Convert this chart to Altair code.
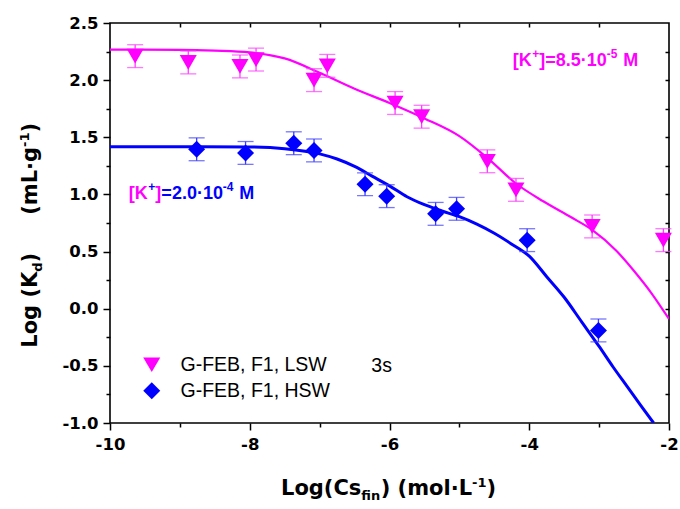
import altair as alt
import pandas as pd

# ---------------- data ----------------
SERIES = ["G-FEB, F1, LSW", "G-FEB, F1, HSW"]

lsw_x = [-9.64, -8.88, -8.14, -7.91, -7.08, -6.89, -5.92, -5.54, -4.60, -4.19, -3.10, -2.08]
lsw_y = [2.21, 2.155, 2.12, 2.18, 2.00, 2.125, 1.80, 1.68, 1.29, 1.04, 0.72, 0.60]
lsw_err = [0.10, 0.10, 0.10, 0.10, 0.10, 0.10, 0.10, 0.10, 0.10, 0.10, 0.10, 0.10]

hsw_x = [-8.76, -8.06, -7.37, -7.08, -6.35, -6.04, -5.34, -5.04, -4.03, -3.01]
hsw_y = [1.395, 1.363, 1.448, 1.385, 1.089, 0.985, 0.83, 0.874, 0.60, -0.19]
hsw_err = [0.10, 0.10, 0.10, 0.10, 0.10, 0.10, 0.10, 0.10, 0.10, 0.10]

# fitted curves
fit_lsw_x = [-10, -9, -8.5, -8, -7.5, -7, -6.5, -6, -5.5, -5, -4.6, -4.2, -3.8, -3.4,
             -3.1, -2.75, -2.5, -2.25, -2.0]
fit_lsw_y = [2.267, 2.265, 2.258, 2.243, 2.19, 2.065, 1.925, 1.80, 1.665, 1.51, 1.32,
             1.10, 0.94, 0.80, 0.69, 0.505, 0.33, 0.135, -0.09]

fit_hsw_x = [-10, -9, -8, -7.5, -7.0, -6.75, -6.5, -6.25, -6.0, -5.75, -5.5, -5.25, -5.0,
             -4.75, -4.5, -4.25, -4.0, -3.75, -3.5, -3.25, -3.0, -2.8, -2.6, -2.4, -2.22]
fit_hsw_y = [1.418, 1.418, 1.415, 1.40, 1.355, 1.31, 1.245, 1.16, 1.075, 0.98, 0.91,
             0.855, 0.805, 0.74, 0.66, 0.565, 0.46, 0.28, 0.10, -0.115, -0.33, -0.51,
             -0.68, -0.85, -1.0]

x_major = [-10, -8, -6, -4, -2]
x_minor = [-9, -7, -5, -3]
x_top = [-9, -8, -7, -6, -5, -4, -3]
y_major = [-1.0, -0.5, 0.0, 0.5, 1.0, 1.5, 2.0, 2.5]
y_minor = [-0.75, -0.25, 0.25, 0.75, 1.25, 1.75, 2.25]
y_right = [-0.75, -0.5, -0.25, 0.0, 0.25, 0.5, 0.75, 1.0, 1.25, 1.5, 1.75, 2.0, 2.25]

ann_hi_text = ["[K", "+", "]=8.5\u00b710", "-5", "M"]
ann_hi_pos = (-4.235, 2.165)
ann_lo_text = ["[K", "+", "]", "=2.0\u00b710", "-4", "M"]
ann_lo_pos = (-9.73, 1.0)
note_text = "3s"
note_pos = (-6.26, -0.497)

# ---------------- styling ----------------
MAG = "#ff00ff"
BLU = "#0000ff"
MAG_ERR = "#ff3cff"
BLU_ERR = "#3c3cff"
W, H = 559, 400
XS = alt.Scale(domain=[-10, -2], nice=False, zero=False)
YS = alt.Scale(domain=[-1.0, 2.5], nice=False, zero=False)
TICKF = "DejaVu Sans"
ANNF = "Liberation Sans"


def lab(fmt):
    return "replace(format(datum.value, '" + fmt + "'), '\u2212', '-')"


common = dict(title=None, grid=False, domain=False, tickColor="black", tickWidth=1.5,
              labelFlush=False, labelOverlap=False)

ax_x_major = alt.Axis(orient="bottom", values=x_major, tickSize=7, labelExpr=lab("d"),
                      labelFont=TICKF, labelFontWeight="bold", labelFontSize=16.5,
                      labelColor="black", labelPadding=6, **common)
ax_y_major = alt.Axis(orient="left", values=y_major, tickSize=7, labelExpr=lab(".1f"),
                      labelFont=TICKF, labelFontWeight="bold", labelFontSize=16.5,
                      labelColor="black", labelPadding=5, **common)
ax_x_minor = alt.Axis(orient="bottom", values=x_minor, tickSize=4, labels=False, **common)
ax_y_minor = alt.Axis(orient="left", values=y_minor, tickSize=4, labels=False, **common)
ax_x_top = alt.Axis(orient="top", values=x_top, tickSize=4, offset=-4, labels=False, **common)
ax_y_right = alt.Axis(orient="right", values=y_right, tickSize=4, offset=-4, labels=False, **common)

# ---------------- frames ----------------
fit_lsw = pd.DataFrame({"x": fit_lsw_x, "y": fit_lsw_y})
fit_hsw = pd.DataFrame({"x": fit_hsw_x, "y": fit_hsw_y})

lsw = pd.DataFrame({"x": lsw_x, "y": lsw_y, "err": lsw_err})
lsw["lo"] = lsw["y"] - lsw["err"]
lsw["hi"] = lsw["y"] + lsw["err"]
hsw = pd.DataFrame({"x": hsw_x, "y": hsw_y, "err": hsw_err})
hsw["lo"] = hsw["y"] - hsw["err"]
hsw["hi"] = hsw["y"] + hsw["err"]

pts = pd.concat([
    pd.DataFrame({"x": lsw_x, "y": lsw_y, "series": SERIES[0]}),
    pd.DataFrame({"x": hsw_x, "y": hsw_y, "series": SERIES[1]}),
], ignore_index=True)

# ---------------- layers ----------------
line_lsw = alt.Chart(fit_lsw).mark_line(color=MAG, strokeWidth=2.2, interpolate="monotone",
                                        clip=True).encode(
    x=alt.X("x:Q", scale=XS, axis=ax_x_major),
    y=alt.Y("y:Q", scale=YS, axis=ax_y_major))

line_hsw = alt.Chart(fit_hsw).mark_line(color=BLU, strokeWidth=3, interpolate="monotone",
                                        clip=True).encode(
    x=alt.X("x:Q", scale=XS, axis=ax_x_minor),
    y=alt.Y("y:Q", scale=YS, axis=ax_y_minor))


def errbars(df, col, carry_axes=False):
    xa = ax_x_top if carry_axes else None
    ya = ax_y_right if carry_axes else None
    rule = alt.Chart(df).mark_rule(color=col, strokeWidth=1.3).encode(
        x=alt.X("x:Q", scale=XS, axis=xa),
        y=alt.Y("lo:Q", scale=YS, axis=ya),
        y2="hi:Q")
    cap_hi = alt.Chart(df).mark_tick(color=col, orient="horizontal", size=16,
                                     thickness=1.3).encode(
        x=alt.X("x:Q", scale=XS, axis=None),
        y=alt.Y("hi:Q", scale=YS, axis=None))
    cap_lo = alt.Chart(df).mark_tick(color=col, orient="horizontal", size=16,
                                     thickness=1.3).encode(
        x=alt.X("x:Q", scale=XS, axis=None),
        y=alt.Y("lo:Q", scale=YS, axis=None))
    return [rule, cap_hi, cap_lo]


LEG = alt.Legend(orient="none", legendX=32, legendY=332, title=None,
                 labelFont=ANNF, labelFontSize=19.5, labelColor="black",
                 symbolSize=290, symbolStrokeWidth=0, labelOffset=19,
                 rowPadding=5, padding=0, symbolOpacity=1)

points = alt.Chart(pts).mark_point(filled=True, size=290, opacity=1).encode(
    x=alt.X("x:Q", scale=XS, axis=None),
    y=alt.Y("y:Q", scale=YS, axis=None),
    color=alt.Color("series:N", scale=alt.Scale(domain=SERIES, range=[MAG, BLU]), legend=LEG),
    shape=alt.Shape("series:N", scale=alt.Scale(domain=SERIES,
                                                range=["triangle-down", "diamond"]),
                    legend=LEG))


def rich(texts, colors, dxs, dys, sizes, pos):
    out = []
    df = pd.DataFrame({"x": [pos[0]], "y": [pos[1]]})
    for t, c, dx, dy, s in zip(texts, colors, dxs, dys, sizes):
        out.append(alt.Chart(df).mark_text(text=t, color=c, dx=dx, dy=dy, fontSize=s,
                                           font=ANNF, fontWeight="bold", align="left",
                                           baseline="middle").encode(
            x=alt.X("x:Q", scale=XS, axis=None),
            y=alt.Y("y:Q", scale=YS, axis=None)))
    return out


ann_hi = rich(ann_hi_text, [MAG] * 5, [0, 19.5, 26.5, 94, 110.5], [0, -7, 0, -7, 0],
              [18, 12, 18, 12, 18], ann_hi_pos)
ann_lo = rich(ann_lo_text, [MAG, BLU, MAG, BLU, BLU, BLU], [0, 19.5, 26.5, 32.5, 94, 110.5],
              [0, -7, 0, 0, -7, 0], [18, 12, 18, 18, 12, 18], ann_lo_pos)

note = alt.Chart(pd.DataFrame({"x": [note_pos[0]], "y": [note_pos[1]]})).mark_text(
    text=note_text, font=ANNF, fontSize=19.5, color="black", align="left",
    baseline="middle").encode(
    x=alt.X("x:Q", scale=XS, axis=None),
    y=alt.Y("y:Q", scale=YS, axis=None))

# axis titles made of pieces (for sub/superscripts)
one = pd.DataFrame({"k": [0]})


def piece(text, x, y, size, angle=0, baseline="alphabetic"):
    kw = dict(text=text, font=TICKF, fontWeight="bold", fontSize=size, color="black",
              align="left", baseline=baseline)
    if angle:
        kw["angle"] = angle
    return alt.Chart(one).mark_text(**kw).encode(x=alt.value(x), y=alt.value(y))


xt_y = 472
x_title = [
    piece("Log(Cs", 171, xt_y, 21),
    piece("fin", 251.3, xt_y + 5, 13),
    piece(") (mol\u00b7L", 270.7, xt_y, 21),
    piece("-1", 362.1, xt_y - 8, 13),
    piece(")", 376.5, xt_y, 21),
]

yt_x = -73
y_title = [
    piece("Log (K", yt_x, 324.7, 21, 270),
    piece("d", yt_x + 5, 248.7, 13, 270),
    piece(")", yt_x, 239.4, 21, 270),
    piece("(mL\u00b7g", yt_x, 191.8, 21, 270),
    piece("-1", yt_x - 8, 123.9, 13, 270),
    piece(")", yt_x, 109.5, 21, 270),
]

layers = ([line_lsw, line_hsw] + errbars(lsw, MAG_ERR, carry_axes=True) +
          errbars(hsw, BLU_ERR) + [points] + ann_hi + ann_lo + [note] + x_title + y_title)

chart = alt.layer(*layers).resolve_axis(x="independent", y="independent").properties(
    width=W, height=H,
    autosize=alt.AutoSizeParams(type="none"),
    padding={"left": 110, "top": 23, "right": 11, "bottom": 86},
    background="white",
).configure_view(stroke="black", strokeWidth=1.6)

chart.save("out.html", embed_options={"renderer": "svg", "actions": False})
